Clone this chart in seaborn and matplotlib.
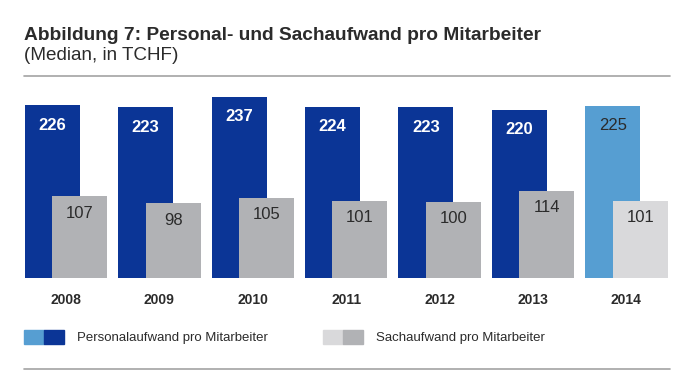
import matplotlib
matplotlib.use("Agg")
import matplotlib.pyplot as plt
from matplotlib.lines import Line2D
from matplotlib.patches import Patch
from matplotlib.legend_handler import HandlerTuple
import pandas as pd
import seaborn as sns

# Data
YEARS = [2008, 2009, 2010, 2011, 2012, 2013, 2014]
PERSONAL = [226, 223, 237, 224, 223, 220, 225]
SACH = [107, 98, 105, 101, 100, 114, 101]
TITLE = "Abbildung 7: Personal- und Sachaufwand pro Mitarbeiter"
SUBTITLE = "(Median, in TCHF)"
LEGEND_LABELS = ["Personalaufwand pro Mitarbeiter", "Sachaufwand pro Mitarbeiter"]

DARK_BLUE = "#0b3596"
LIGHT_BLUE = "#569ed2"
GRAY = "#b1b2b5"
LIGHT_GRAY = "#d9d9db"
TEXT = "#2b2b2b"
RULE = "#a3a3a3"

W, H = 673, 381
PX = 1 / 1.389  # points per pixel at 100 dpi

sns.set_theme(style="white")
plt.rcParams["font.family"] = ["Liberation Sans", "DejaVu Sans"]

df = pd.DataFrame({"year": YEARS, "personal": PERSONAL, "sach": SACH})
df["hl"] = ["past" if y != YEARS[-1] else "current" for y in YEARS]
offset = 0.147
bar_w = 0.589
df["pos_p"] = df["year"] - offset
df["pos_s"] = df["year"] + offset

fig = plt.figure(figsize=(W / 100, H / 100), dpi=100)
ax = fig.add_axes([24 / W, (H - 278) / H, (670 - 24) / W, (278 - 90) / H])

sns.barplot(data=df, x="pos_p", y="personal", hue="hl", orient="x",
            native_scale=True, width=bar_w, errorbar=None, legend=False,
            palette={"past": DARK_BLUE, "current": LIGHT_BLUE},
            linewidth=0, saturation=1, ax=ax)
sns.barplot(data=df, x="pos_s", y="sach", hue="hl", orient="x",
            native_scale=True, width=bar_w, errorbar=None, legend=False,
            palette={"past": GRAY, "current": LIGHT_GRAY},
            linewidth=0, saturation=1, ax=ax)

# value labels inside the bars
for _, r in df.iterrows():
    past = r["hl"] == "past"
    ax.annotate(str(r["personal"]), (r["pos_p"], r["personal"]), xytext=(0, -20 * PX),
                textcoords="offset points", ha="center", va="center",
                fontsize=12, fontweight="bold" if past else "normal",
                color="white" if past else TEXT)
    ax.annotate(str(r["sach"]), (r["pos_s"], r["sach"]), xytext=(0, -17 * PX),
                textcoords="offset points", ha="center", va="center",
                fontsize=12, color=TEXT)

ax.set_xlim(YEARS[0] - (66 - 24) / 93.4, YEARS[0] + (670 - 66) / 93.4)
ax.set_ylim(0, 188 / 0.765)
ax.set_xticks(YEARS)
ax.set_xticklabels([str(y) for y in YEARS], fontsize=10, fontweight="bold", color=TEXT)
ax.tick_params(axis="x", length=0, pad=11)
ax.set_yticks([])
ax.set_xlabel("")
ax.set_ylabel("")
for s in ax.spines.values():
    s.set_visible(False)
ax.patch.set_alpha(0)

# title block
fig.text(24 / W, 1 - 35 / H, TITLE, fontsize=13.8, fontweight="bold",
         color=TEXT, va="center", ha="left")
fig.text(24 / W, 1 - 55 / H, SUBTITLE, fontsize=13.6, color=TEXT,
         va="center", ha="left")
for yy in (76, 369):
    fig.add_artist(Line2D([24 / W, 670 / W], [1 - yy / H] * 2,
                          color=RULE, lw=1.2))

# legend with split colour swatches
fs = 9.5
em = fs / PX
handles = [(Patch(color=LIGHT_BLUE), Patch(color=DARK_BLUE)),
           (Patch(color=LIGHT_GRAY), Patch(color=GRAY))]
fig.legend(handles, LEGEND_LABELS, handler_map={tuple: HandlerTuple(ndivide=None, pad=0)},
           loc="center left", bbox_to_anchor=(24 / W, 1 - 337 / H), ncol=2,
           frameon=False, borderpad=0, borderaxespad=0,
           prop={"size": fs}, labelcolor=TEXT,
           handlelength=40 / em, handleheight=17 / em,
           handletextpad=13 / em, columnspacing=55 / em)

fig.savefig("out.png", dpi=100)
